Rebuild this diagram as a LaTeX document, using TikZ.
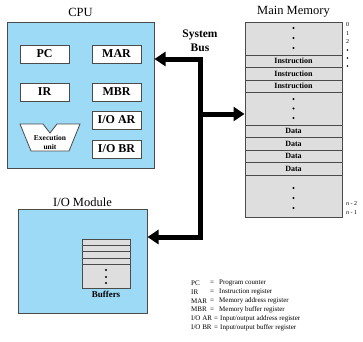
\documentclass[tikz,border=0pt]{standalone}
\usepackage{fontspec}
\setmainfont{Liberation Serif}
\usetikzlibrary{arrows.meta}
\definecolor{cpublue}{RGB}{157,218,245}
\definecolor{memgray}{RGB}{222,222,222}
\definecolor{edgegray}{RGB}{75,75,75}
\tikzset{bushead/.tip={Triangle[length=11pt,width=14pt]}}
\begin{document}
\begin{tikzpicture}[x=1pt,y=-1pt,
  title/.style={inner sep=0pt,font=\fontsize{12.5}{13}\selectfont},
  module/.style={draw=edgegray,line width=1pt,fill=cpublue,inner sep=0pt},
  reg/.style={draw=edgegray,line width=0.8pt,fill=white,minimum width=49pt,minimum height=18pt,inner sep=0pt,font=\fontsize{12}{12}\selectfont\bfseries},
  memrow/.style={draw=edgegray,line width=1pt,fill=memgray,minimum width=97pt,minimum height=12.5pt,inner sep=0pt,font=\fontsize{8}{8}\selectfont\bfseries},
  memdot/.style={circle,fill=black,inner sep=0pt,minimum size=2.2pt},
  addr/.style={anchor=west,inner sep=0pt,font=\fontsize{6}{6}\selectfont},
  bus/.style={line width=5pt,draw=black},
  legend/.style={anchor=west,inner sep=0pt,font=\fontsize{7}{7}\selectfont},
]
\useasboundingbox (0,0) rectangle (363,341);

% CPU
\node[module,minimum width=147pt,minimum height=146pt] (cpu) at (80.5,95) {};
\node[title] (cputitle) at (80.5,12) {CPU};
\node[reg] (pc) at (44.5,54) {PC};
\node[reg] (mar) at (116.5,54) {MAR};
\node[reg] (ir) at (44.5,92) {IR};
\node[reg] (mbr) at (116.5,92) {MBR};
\node[reg] (ioar) at (116.5,120) {I/O AR};
\node[reg] (iobr) at (116.5,149) {I/O BR};
\draw[draw=edgegray,line width=0.8pt,fill=white,line join=miter]
  (20,124) -- (43,124) -- (50,133) -- (57,124) -- (80,124) -- (69,151) -- (31,151) -- cycle;
\node[align=center,inner sep=0pt,font=\fontsize{7.5}{8.5}\selectfont\bfseries] (exu) at (50,142.5) {Execution\\unit};

% Main memory
\node[draw=edgegray,line width=1pt,fill=memgray,minimum width=97pt,minimum height=195pt,inner sep=0pt] (mem) at (293.5,119.5) {};
\node[title] (memtitle) at (293.5,12) {Main Memory};
\node[memrow] (i1) at (293.5,61.25) {Instruction};
\node[memrow] (i2) at (293.5,73.75) {Instruction};
\node[memrow] (i3) at (293.5,86.25) {Instruction};
\node[memrow] (d1) at (293.5,131.25) {Data};
\node[memrow] (d2) at (293.5,143.75) {Data};
\node[memrow] (d3) at (293.5,156.25) {Data};
\node[memrow] (d4) at (293.5,168.75) {Data};
\node[memdot] (md1) at (293.5,28) {};
\node[memdot] (md2) at (293.5,38) {};
\node[memdot] (md3) at (293.5,48) {};
\node[memdot] (md4) at (293.5,99) {};
\node[memdot] (md5) at (293.5,108.5) {};
\node[memdot] (md6) at (293.5,118) {};
\node[memdot] (md7) at (293.5,188) {};
\node[memdot] (md8) at (293.5,198) {};
\node[memdot] (md9) at (293.5,208) {};
\node[addr] (a0) at (346,25) {0};
\node[addr] (a1) at (346,33.5) {1};
\node[addr] (a2) at (346,42) {2};
\node[memdot,minimum size=1.8pt] (ad1) at (347.5,50) {};
\node[memdot,minimum size=1.8pt] (ad2) at (347.5,58) {};
\node[memdot,minimum size=1.8pt] (ad3) at (347.5,66) {};
\node[addr] (an2) at (346,204) {\itshape n\upshape\ - 2};
\node[addr] (an1) at (346,213) {\itshape n\upshape\ - 1};

% I/O module
\node[module,minimum width=129pt,minimum height=104pt] (io) at (82.5,261) {};
\node[title] (iotitle) at (82.5,202) {I/O Module};
\node[draw=edgegray,line width=0.8pt,fill=memgray,minimum width=48pt,minimum height=49pt,inner sep=0pt] (buf) at (106,263.5) {};
\foreach \yy in {245,251,258,264} {
  \draw[edgegray,line width=1pt] (buf.west |- 0,\yy) -- (buf.east |- 0,\yy);
}
\node[memdot] (bd1) at (106,270) {};
\node[memdot] (bd2) at (106,277) {};
\node[memdot] (bd3) at (106,283) {};
\node[inner sep=0pt,font=\fontsize{9}{9}\selectfont\bfseries] (buflabel) at (106,294) {Buffers};

% System bus
\coordinate (bt) at (200,59);
\coordinate (bm) at (200,114);
\coordinate (bb) at (200,237);
\draw[bus,line join=miter,{bushead}-{bushead}] (bt -| cpu.east) -- (bt) -- (bb) -- (bb -| io.east);
\draw[bus,-{bushead}] (bm) -- (bm -| mem.west);
\node[align=center,inner sep=0pt,font=\fontsize{11.5}{14}\selectfont\bfseries] (buslabel) at (200,41) {System\\Bus};

% Legend
\node[legend] (l1a) at (191,283) {PC};
\node[legend] (l1b) at (210,283) {=};
\node[legend] (l1c) at (219,283) {Program counter};
\node[legend] (l2a) at (191,292) {IR};
\node[legend] (l2b) at (210,292) {=};
\node[legend] (l2c) at (219,292) {Instruction register};
\node[legend] (l3a) at (191,301) {MAR};
\node[legend] (l3b) at (210,301) {=};
\node[legend] (l3c) at (219,301) {Memory address register};
\node[legend] (l4a) at (191,309.5) {MBR};
\node[legend] (l4b) at (210,309.5) {=};
\node[legend] (l4c) at (219,309.5) {Memory buffer register};
\node[legend] (l5a) at (191,318.5) {I/O AR};
\node[legend] (l5b) at (214,318.5) {=};
\node[legend] (l5c) at (220,318.5) {Input/output address register};
\node[legend] (l6a) at (191,327.5) {I/O BR};
\node[legend] (l6b) at (214,327.5) {=};
\node[legend] (l6c) at (220,327.5) {Input/output buffer register};
\end{tikzpicture}
\end{document}
